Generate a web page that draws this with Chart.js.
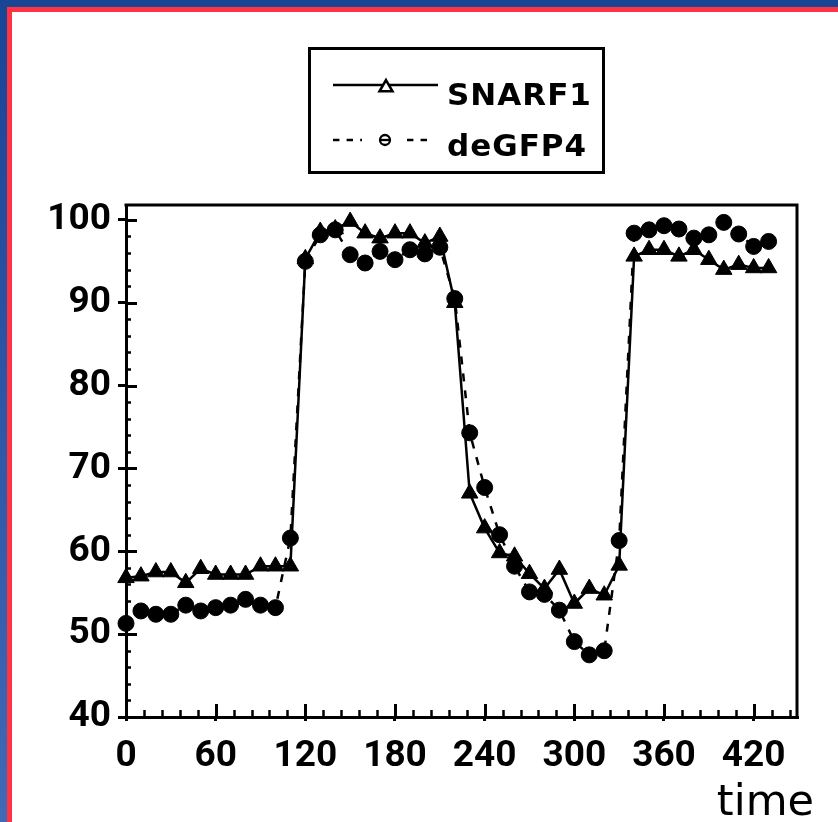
<!doctype html>
<html lang="en">
<head>
<meta charset="utf-8">
<title>SNARF1 / deGFP4</title>
<script src="https://cdn.jsdelivr.net/npm/chart.js@4.4.1/dist/chart.umd.min.js"></script>
<style>
  html, body { margin: 0; padding: 0; background: #fff; }
  canvas { display: block; }
</style>
</head>
<body>
<canvas id="grafica" width="838" height="822"></canvas>
<script>
// medidas cada 10 unidades de tiempo
const times = [0, 10, 20, 30, 40, 50, 60, 70, 80, 90, 100, 110, 120, 130, 140, 150, 160, 170, 180, 190, 200, 210,
               220, 230, 240, 250, 260, 270, 280, 290, 300, 310, 320, 330, 340, 350, 360, 370, 380, 390, 400, 410, 420, 430];
const snarf1 = [56.8, 57.0, 57.5, 57.5, 56.2, 57.9, 57.2, 57.2, 57.2, 58.2, 58.2, 58.2, 95.3, 98.6, 98.9, 99.8, 98.4, 97.8, 98.4, 98.4, 97.2, 98.0,
                90.0, 67.0, 62.8, 59.8, 59.4, 57.3, 55.5, 57.8, 53.7, 55.5, 54.7, 58.3, 95.6, 96.4, 96.4, 95.6, 96.4, 95.2, 94.0, 94.6, 94.2, 94.2];
const degfp4 = [51.3, 52.8, 52.4, 52.4, 53.5, 52.8, 53.2, 53.5, 54.2, 53.5, 53.2, 61.6, 95.0, 98.2, 98.8, 95.8, 94.8, 96.2, 95.2, 96.4, 95.9, 96.7,
                90.5, 74.3, 67.7, 62.0, 58.2, 55.1, 54.8, 52.9, 49.1, 47.5, 48.0, 61.3, 98.4, 98.8, 99.3, 98.9, 97.8, 98.2, 99.7, 98.3, 96.8, 97.4];
const xTickLabels = [0, 60, 120, 180, 240, 300, 360, 420];
const yTickLabels = [40, 50, 60, 70, 80, 90, 100];

const toPoints = ys => times.map((t, i) => ({ x: t, y: ys[i] }));
const isMajor = (list, v) => list.includes(v);

// marco azul/rojo, caja del grafico, ticks hacia dentro, leyenda y titulo "time"
const marco = {
  id: 'marco',
  beforeDraw(chart) {
    const ctx = chart.ctx;
    const w = chart.width, h = chart.height;
    ctx.save();
    ctx.fillStyle = '#fff';
    ctx.fillRect(0, 0, w, h);
    const azul = ctx.createLinearGradient(0, 0, 0, h);
    azul.addColorStop(0, '#1a4494');
    azul.addColorStop(1, '#4169b4');
    ctx.fillStyle = azul;
    ctx.fillRect(0, 0, w, 7);
    ctx.fillRect(0, 0, 7, h);
    ctx.fillStyle = '#ff3343';
    ctx.fillRect(7, 7, w - 7, 5);
    ctx.fillRect(7, 7, 5, h - 7);
    ctx.restore();
  },
  beforeDatasetsDraw(chart) {
    const ctx = chart.ctx;
    const a = chart.chartArea;
    const sx = chart.scales.x, sy = chart.scales.y;
    ctx.save();
    ctx.strokeStyle = '#000';
    ctx.lineCap = 'butt';
    // lado superior y derecho
    ctx.lineWidth = 3;
    ctx.beginPath();
    ctx.moveTo(a.left - 1.5, a.top);
    ctx.lineTo(a.right, a.top);
    ctx.lineTo(a.right, a.bottom + 1.5);
    ctx.stroke();
    sx.ticks.forEach(t => {
      const px = Math.round(sx.getPixelForValue(t.value)) + 0.5;
      const major = isMajor(xTickLabels, t.value);
      ctx.lineWidth = major ? 3 : 2.5;
      ctx.beginPath();
      ctx.moveTo(px, a.bottom);
      ctx.lineTo(px, a.bottom - (major ? 13 : 7));
      ctx.stroke();
    });
    sy.ticks.forEach(t => {
      const py = Math.round(sy.getPixelForValue(t.value)) + 0.5;
      const major = isMajor(yTickLabels, t.value);
      ctx.lineWidth = major ? 3 : 2.5;
      ctx.beginPath();
      ctx.moveTo(a.left, py);
      ctx.lineTo(a.left + (major ? 11 : 5), py);
      ctx.stroke();
    });
    ctx.restore();
  },
  afterDraw(chart) {
    const ctx = chart.ctx;
    const ds = chart.data.datasets;
    ctx.save();
    ctx.strokeStyle = '#000';
    ctx.fillStyle = '#000';
    ctx.lineWidth = 3;
    ctx.strokeRect(309.5, 48.5, 294, 124);

    // SNARF1: linea continua con triangulo vacio
    ctx.lineWidth = 2.5;
    ctx.setLineDash([]);
    ctx.beginPath();
    ctx.moveTo(333, 85);
    ctx.lineTo(438, 85);
    ctx.stroke();
    ctx.fillStyle = '#fff';
    Chart.helpers.drawPoint(ctx, { pointStyle: 'triangle', radius: 7.5, borderWidth: 2.5 }, 386, 87.5);

    // deGFP4: discontinua con circulo vacio
    ctx.setLineDash(ds[1].borderDash.map(v => v * 0.8));
    ctx.beginPath();
    ctx.moveTo(333, 140);
    ctx.lineTo(362, 140);
    ctx.moveTo(407, 140);
    ctx.lineTo(434, 140);
    ctx.stroke();
    ctx.setLineDash([]);
    ctx.lineWidth = 2.3;
    Chart.helpers.drawPoint(ctx, { pointStyle: 'circle', radius: 5, borderWidth: 2.3 }, 385, 140);
    ctx.beginPath();
    ctx.moveTo(381, 140);
    ctx.lineTo(389, 140);
    ctx.stroke();

    ctx.fillStyle = '#000';
    ctx.font = 'bold 31px "DejaVu Sans"';
    ctx.letterSpacing = '1px';
    ctx.textAlign = 'left';
    ctx.textBaseline = 'alphabetic';
    ctx.fillText(ds[0].label, 447, 105);
    ctx.fillText(ds[1].label, 447, 156);

    ctx.letterSpacing = '0px';
    ctx.font = '43px "DejaVu Sans"';
    ctx.textAlign = 'right';
    ctx.fillText('time', 814, 815);
    ctx.restore();
  }
};

const tickFont = { family: 'Roboto', weight: 'bold', size: 37 };

new Chart(document.getElementById('grafica'), {
  type: 'line',
  data: {
    datasets: [
      {
        label: 'SNARF1',
        data: toPoints(snarf1),
        borderColor: '#000',
        backgroundColor: '#000',
        borderWidth: 2.5,
        pointStyle: 'triangle',
        pointRadius: 9.5,
        pointBorderWidth: 1,
        tension: 0,
        clip: false
      },
      {
        label: 'deGFP4',
        data: toPoints(degfp4),
        borderColor: '#000',
        backgroundColor: '#000',
        borderWidth: 2.5,
        borderDash: [8, 9],
        pointStyle: 'circle',
        pointRadius: 8,
        pointBorderWidth: 1,
        tension: 0,
        clip: false
      }
    ]
  },
  options: {
    responsive: false,
    animation: false,
    layout: { padding: { top: 205, right: 41, left: 0, bottom: 0 } },
    plugins: {
      legend: { display: false },
      tooltip: { enabled: false }
    },
    scales: {
      x: {
        type: 'linear',
        min: 0,
        max: 449,
        afterFit: s => { s.height = 105; },
        border: { display: true, color: '#000', width: 3 },
        grid: {
          drawOnChartArea: false,
          tickLength: 4,
          tickColor: '#000',
          tickWidth: c => isMajor(xTickLabels, c.tick.value) ? 3 : 0,
          lineWidth: 3
        },
        ticks: {
          stepSize: 12,
          autoSkip: false,
          includeBounds: false,
          maxRotation: 0,
          padding: 14,
          color: '#000',
          font: tickFont,
          callback: v => isMajor(xTickLabels, v) ? String(v) : ''
        }
      },
      y: {
        min: 40,
        max: 101.8,
        afterFit: s => { s.width = 126; },
        border: { display: true, color: '#000', width: 3 },
        grid: {
          drawOnChartArea: false,
          tickLength: 8,
          tickColor: '#000',
          tickWidth: c => isMajor(yTickLabels, c.tick.value) ? 3 : 0,
          lineWidth: 3
        },
        ticks: {
          stepSize: 2,
          autoSkip: false,
          includeBounds: false,
          padding: 7,
          color: '#000',
          font: tickFont,
          callback: v => isMajor(yTickLabels, v) ? String(v) : ''
        }
      }
    }
  },
  plugins: [marco]
});
</script>
</body>
</html>
